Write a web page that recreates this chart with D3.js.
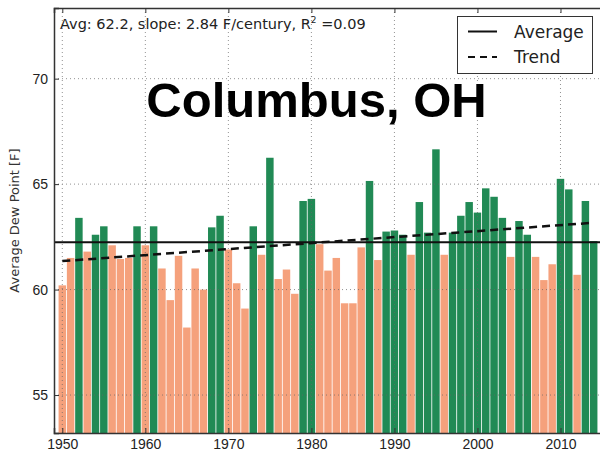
<!DOCTYPE html>
<html>
<head>
<meta charset="utf-8">
<script src="https://cdn.jsdelivr.net/npm/d3@7"></script>
<style>
  body { margin: 0; background: #fff; }
  svg { display: block; }
</style>
</head>
<body>
<script>
// yearly average dew point, Columbus OH
var years = [1950, 1951, 1952, 1953, 1954, 1955, 1956, 1957, 1958, 1959,
  1960, 1961, 1962, 1963, 1964, 1965, 1966, 1967, 1968, 1969,
  1970, 1971, 1972, 1973, 1974, 1975, 1976, 1977, 1978, 1979,
  1980, 1981, 1982, 1983, 1984, 1985, 1986, 1987, 1988, 1989,
  1990, 1991, 1992, 1993, 1994, 1995, 1996, 1997, 1998, 1999,
  2000, 2001, 2002, 2003, 2004, 2005, 2006, 2007, 2008, 2009,
  2010, 2011, 2012, 2013, 2014];
var dewPoints = [60.2, 61.5, 63.4, 61.8, 62.6, 63.0, 62.1, 61.45, 61.5, 63.0,
  62.1, 63.0, 61.0, 59.5, 61.6, 58.2, 61.0, 60.0, 62.95, 63.5,
  61.9, 60.3, 59.1, 63.0, 61.65, 66.25, 60.5, 60.95, 59.8, 64.2,
  64.3, 62.15, 60.9, 61.5, 59.35, 59.35, 62.0, 65.15, 61.4, 62.75,
  62.8, 62.6, 61.65, 64.15, 62.7, 66.65, 61.65, 62.7, 63.5, 64.15,
  63.65, 64.8, 64.4, 63.4, 61.55, 63.25, 62.6, 61.55, 60.45, 61.2,
  65.25, 64.75, 60.7, 64.2, 62.3];
var average = 62.24;
var trendYears = [1950, 2014];
var trendValues = [61.35, 63.17];
var xTicks = [1950, 1960, 1970, 1980, 1990, 2000, 2010];
var yTicks = [55, 60, 65, 70];
var title = "Columbus, OH";
var statsText = ["Avg: 62.2, slope: 2.84 F/century, R", "2", " =0.09"];
var legendLabels = ["Average", "Trend"];

var W = 600, H = 455;
var margin = {top: 8, left: 54, bottom: 22};

var x = d3.scaleLinear().domain([1949, 2015]).range([margin.left, 602]);
var y = d3.scaleLinear().domain([53.2, 73.35]).range([H - margin.bottom, margin.top]);

var green = "#218a55", salmon = "#f5a17c";

var svg = d3.select("body").append("svg")
  .attr("width", W).attr("height", H)
  .style("font-family", "'DejaVu Sans', sans-serif");

var plot = svg.append("g");

// bars
var bw = x(1950.9) - x(1950);
plot.selectAll("rect.bar").data(years).enter().append("rect")
  .attr("class", "bar")
  .attr("x", function(d) { return x(d) - bw / 2; })
  .attr("width", bw)
  .attr("y", function(d, i) { return y(dewPoints[i]); })
  .attr("height", function(d, i) { return y(53.2) - y(dewPoints[i]); })
  .attr("fill", function(d, i) { return dewPoints[i] > average ? green : salmon; });

// grid
var grid = plot.append("g").attr("stroke", "#666").attr("stroke-width", 1)
  .attr("stroke-dasharray", "1,3").attr("opacity", 0.7);
grid.selectAll("line.v").data(xTicks).enter().append("line")
  .attr("x1", function(d) { return x(d); }).attr("x2", function(d) { return x(d); })
  .attr("y1", y.range()[1]).attr("y2", y.range()[0]);
grid.selectAll("line.h").data(yTicks).enter().append("line")
  .attr("y1", function(d) { return y(d); }).attr("y2", function(d) { return y(d); })
  .attr("x1", x.range()[0]).attr("x2", W);

// average + trend
plot.append("line")
  .attr("x1", x.range()[0]).attr("x2", W)
  .attr("y1", y(average)).attr("y2", y(average))
  .attr("stroke", "#111").attr("stroke-width", 2);

var line = d3.line().x(function(d) { return x(d[0]); }).y(function(d) { return y(d[1]); });
plot.append("path")
  .datum(d3.zip(trendYears, trendValues))
  .attr("d", line)
  .attr("fill", "none").attr("stroke", "#111").attr("stroke-width", 2.5)
  .attr("stroke-dasharray", "8,5");

// axes (ticks point inward)
var yAxis = d3.axisLeft(y).tickValues(yTicks).tickSize(-5).tickPadding(6);
var gy = svg.append("g").attr("transform", "translate(" + margin.left + ",0)").call(yAxis);
var xAxis = d3.axisBottom(x).tickValues(xTicks).tickFormat(d3.format("d")).tickSize(-5).tickPadding(6);
var gx = svg.append("g").attr("transform", "translate(0," + (H - margin.bottom) + ")").call(xAxis);
var xTop = d3.axisTop(x).tickValues(xTicks).tickSize(-5).tickFormat("");
var gt = svg.append("g").attr("transform", "translate(0," + margin.top + ")").call(xTop);
[gx, gy, gt].forEach(function(g) {
  g.selectAll("text").style("font-size", "14px").attr("fill", "#222");
  g.select(".domain").attr("stroke", "#333").attr("stroke-width", 1.5);
  g.selectAll(".tick line").attr("stroke", "#333");
});

// y label
svg.append("text")
  .attr("transform", "translate(19," + ((y.range()[0] + y.range()[1]) / 2) + ") rotate(-90)")
  .attr("text-anchor", "middle")
  .style("font-size", "13px").attr("fill", "#333")
  .text("Average Dew Point [F]");

// stats text
var st = svg.append("text").attr("x", 60).attr("y", 29).style("font-size", "14.5px").attr("fill", "#222");
st.append("tspan").text(statsText[0]);
st.append("tspan").attr("dy", -6).style("font-size", "9px").text(statsText[1]);
st.append("tspan").attr("dy", 6).text(statsText[2]);

// title
svg.append("text")
  .attr("x", 316.5).attr("y", 116.7)
  .attr("text-anchor", "middle")
  .style("font-family", "'Liberation Sans', Arial, sans-serif")
  .style("font-weight", "bold").style("font-size", "49px")
  .attr("fill", "#000")
  .text(title);

// legend
var lg = svg.append("g");
lg.append("rect").attr("x", 457.5).attr("y", 16.5).attr("width", 135).attr("height", 57)
  .attr("fill", "#fff").attr("stroke", "#333").attr("stroke-width", 1);
var ly = [31.5, 57];
legendLabels.forEach(function(lab, i) {
  lg.append("line").attr("x1", 468).attr("x2", 497).attr("y1", ly[i]).attr("y2", ly[i])
    .attr("stroke", "#111").attr("stroke-width", 2)
    .attr("stroke-dasharray", i === 1 ? "7,5" : null);
  lg.append("text").attr("x", 514).attr("y", ly[i] + 6)
    .style("font-size", "17px").attr("fill", "#222").text(lab);
});
</script>
</body>
</html>
